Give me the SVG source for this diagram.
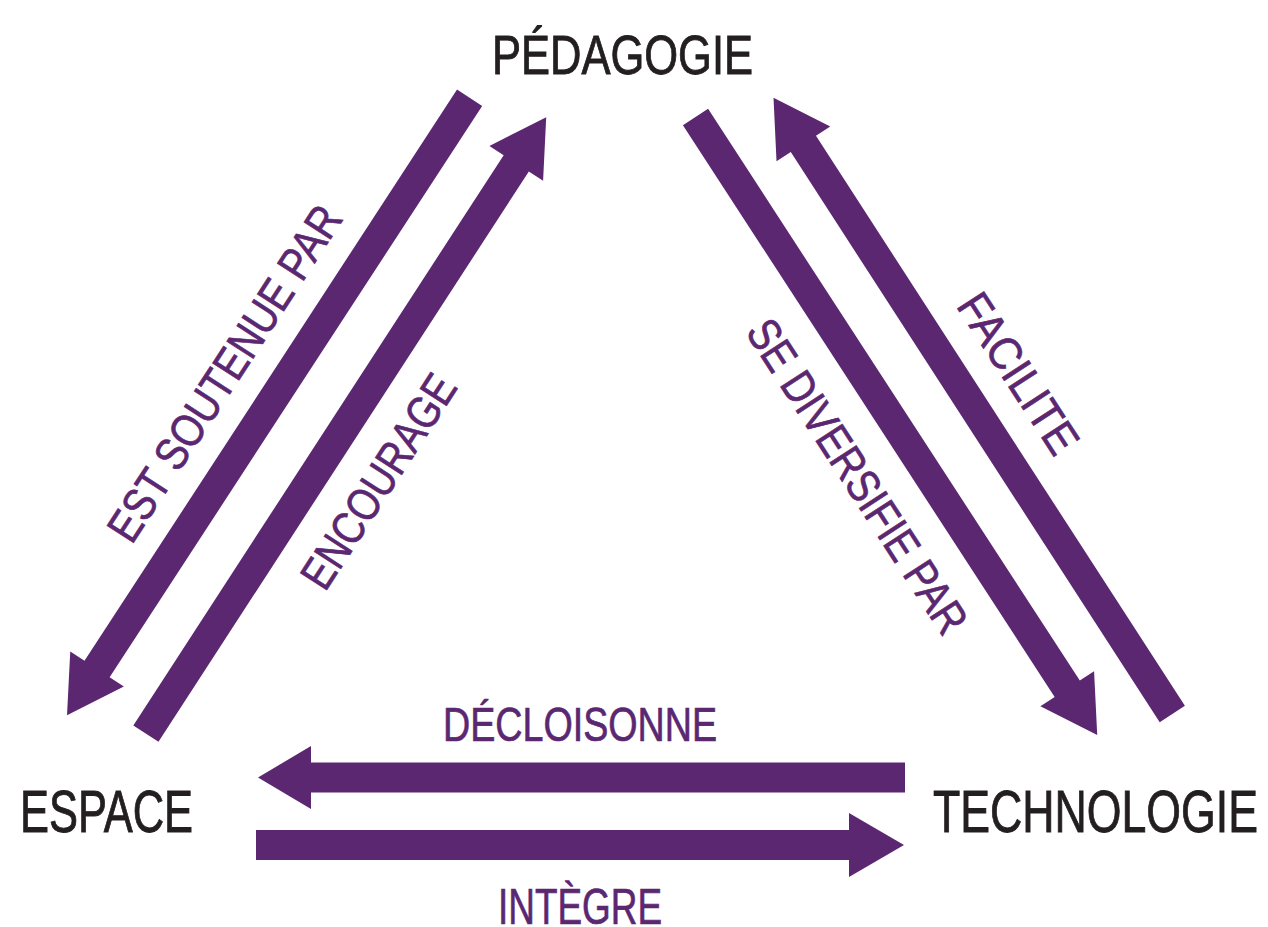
<svg xmlns="http://www.w3.org/2000/svg" width="1268" height="927" viewBox="0 0 1268 927">
<style>
.node{font-family:"Liberation Sans",Arial,sans-serif;fill:#231f20;stroke:#231f20;stroke-width:0.9px;}
.lbl{font-family:"Liberation Sans",Arial,sans-serif;fill:#5b2771;stroke:#5b2771;stroke-width:0.7px;font-size:46px;}
.arr{fill:#5b2771;}
</style>
<rect width="1268" height="927" fill="#ffffff"/>
<g id="connectors">
<polygon class="arr" transform="translate(469.6,97.8) rotate(123.11)" points="0,-15 682,-15 682,-32 737,0 682,32 682,15 0,15"/>
<polygon class="arr" transform="translate(145.9,733.6) rotate(-57.0)" points="0,-15 680,-15 680,-32 735,0 680,32 680,15 0,15"/>
<polygon class="arr" transform="translate(695.5,117) rotate(56.97)" points="0,-15 682,-15 682,-32 737,0 682,32 682,15 0,15"/>
<polygon class="arr" transform="translate(1172.3,714) rotate(-122.91)" points="0,-15 679,-15 679,-32 734,0 679,32 679,15 0,15"/>
<polygon class="arr" points="905,762.5 311,762.5 311,746 258,777.5 311,809 311,792.5 905,792.5"/>
<polygon class="arr" points="256,830 849,830 849,813 904,845 849,877 849,860 256,860"/>
<text class="lbl" transform="translate(224,373) rotate(-57)" x="0" y="16.5" text-anchor="middle" textLength="390" lengthAdjust="spacingAndGlyphs">EST SOUTENUE PAR</text>
<text class="lbl" transform="translate(378,481) rotate(-57)" x="0" y="16.5" text-anchor="middle" textLength="245" lengthAdjust="spacingAndGlyphs">ENCOURAGE</text>
<text class="lbl" transform="translate(858,476) rotate(57)" x="0" y="16.5" text-anchor="middle" textLength="365" lengthAdjust="spacingAndGlyphs">SE DIVERSIFIE PAR</text>
<text class="lbl" transform="translate(1019,373) rotate(57)" x="0" y="16.5" text-anchor="middle" textLength="182" lengthAdjust="spacingAndGlyphs">FACILITE</text>
<text class="lbl" x="443" y="741" textLength="274" lengthAdjust="spacingAndGlyphs" style="font-size:49px">DÉCLOISONNE</text>
<text class="lbl" x="498" y="924" textLength="164" lengthAdjust="spacingAndGlyphs" style="font-size:50px">INTÈGRE</text>
</g>
<g id="pedagogie">
<text class="node" x="492" y="74" textLength="261" lengthAdjust="spacingAndGlyphs" style="font-size:55px">PÉDAGOGIE</text>
</g>
<g id="espace">
<text class="node" x="20" y="832" textLength="173" lengthAdjust="spacingAndGlyphs" style="font-size:59px">ESPACE</text>
</g>
<g id="technologie">
<text class="node" x="933" y="832" textLength="325" lengthAdjust="spacingAndGlyphs" style="font-size:59px">TECHNOLOGIE</text>
</g>
</svg>
